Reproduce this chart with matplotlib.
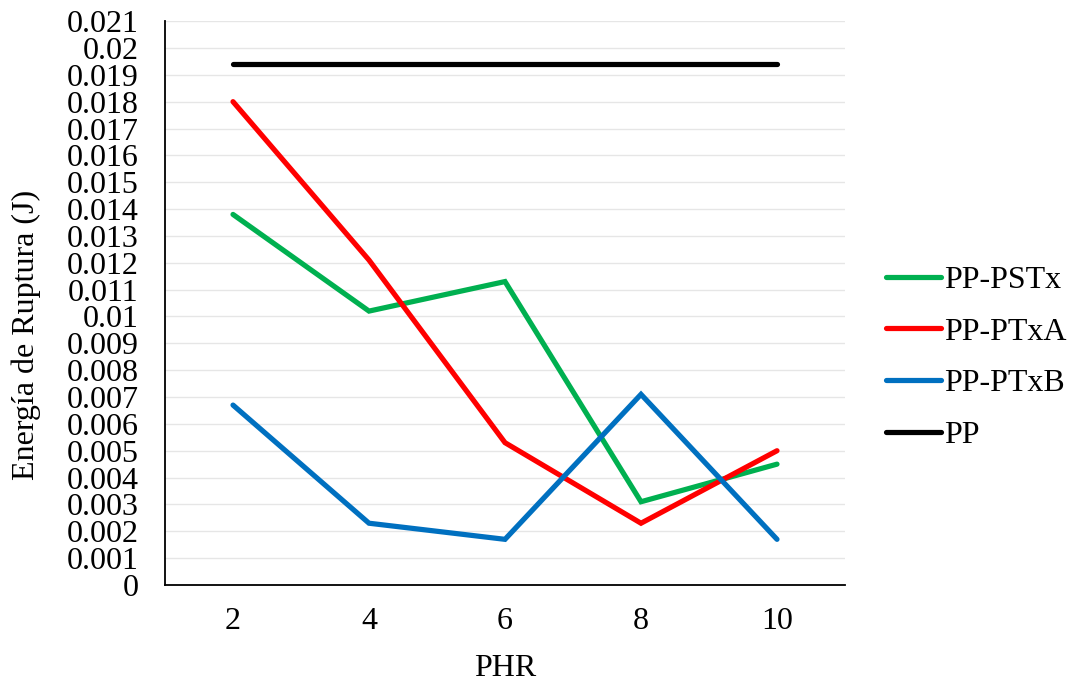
import matplotlib.pyplot as plt
from matplotlib.ticker import MultipleLocator, FuncFormatter

plt.rcParams['font.family'] = ['Liberation Serif', 'DejaVu Serif']

phr = ['2', '4', '6', '8', '10']
pp_pstx = [0.0138, 0.0102, 0.0113, 0.0031, 0.0045]
pp_ptxa = [0.0180, 0.0121, 0.0053, 0.0023, 0.0050]
pp_ptxb = [0.0067, 0.0023, 0.0017, 0.0071, 0.0017]
pp = [0.0194, 0.0194, 0.0194, 0.0194, 0.0194]

series = [
    ('PP-PSTx', pp_pstx, '#00B050'),
    ('PP-PTxA', pp_ptxa, '#FF0000'),
    ('PP-PTxB', pp_ptxb, '#0070C0'),
    ('PP', pp, '#000000'),
]

fs = 23

fig = plt.figure(figsize=(10.68, 6.81), dpi=100)
ax = fig.add_axes([0.1545, 0.141, 0.6367, 0.828])

x = range(len(phr))
for name, vals, color in series:
    ax.plot(x, vals, color=color, lw=3.75, label=name, solid_capstyle='round',
            solid_joinstyle='miter', zorder=3)

ax.set_xlim(-0.5, len(phr) - 0.5)
ax.set_ylim(0, 0.021)
ax.set_xticks(list(x))
ax.set_xticklabels(phr)
ax.yaxis.set_major_locator(MultipleLocator(0.001))
ax.yaxis.set_major_formatter(FuncFormatter(lambda v, p: '0' if abs(v) < 1e-12 else f'{v:.3f}'.rstrip('0')))

ax.grid(axis='y', color='#E6E6E6', lw=1, zorder=0)
ax.set_axisbelow(True)
for side in ['top', 'right']:
    ax.spines[side].set_visible(False)
ax.spines['left'].set_linewidth(1.3)
ax.spines['bottom'].set_linewidth(1.3)
ax.tick_params(axis='both', length=0, labelsize=fs)
ax.tick_params(axis='x', pad=16)
ax.tick_params(axis='y', pad=19)

ax.set_xlabel('PHR', fontsize=fs)
ax.xaxis.set_label_coords(0.5, -0.123)
ax.set_ylabel('Energía de Ruptura (J)', fontsize=fs)
ax.yaxis.set_label_coords(-0.182, 0.443)

ax.legend(loc='center left', bbox_to_anchor=(1.037, 0.403), frameon=False, borderpad=0,
          fontsize=fs, handlelength=1.72, handletextpad=0.1, labelspacing=0.70)

fig.savefig('out.png', dpi=100)
